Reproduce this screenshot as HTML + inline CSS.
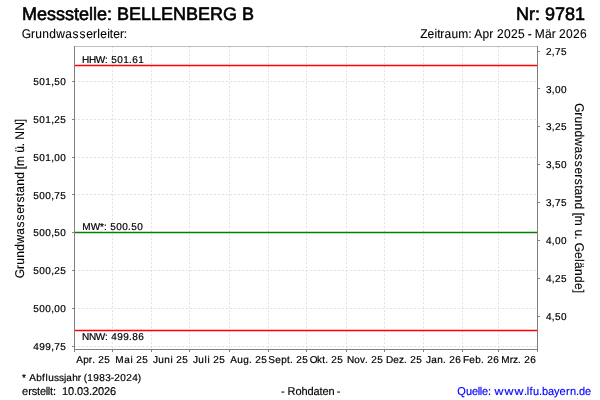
<!DOCTYPE html>
<html lang="de"><head><meta charset="utf-8"><title>Messstelle: BELLENBERG B</title>
<style>
html,body{margin:0;padding:0;background:#fff;}
body{width:600px;height:400px;overflow:hidden;}
svg{display:block;font-family:"Liberation Sans",Arial,Helvetica,sans-serif;}
text{white-space:pre;text-rendering:geometricPrecision;}
</style></head><body>
<svg width="600" height="400" viewBox="0 0 600 400" xml:space="preserve">
<rect x="0" y="0" width="600" height="400" fill="#fff"/>
<path d="M74.25 81.5H537 M74.25 119.5H537 M74.25 157.5H537 M74.25 194.5H537 M74.25 232.5H537 M74.25 270.5H537 M74.25 308.5H537 M74.25 346.5H537 M112.5 46.25V349 M151.5 46.25V349 M189.5 46.25V349 M229.5 46.25V349 M268.5 46.25V349 M306.5 46.25V349 M346.5 46.25V349 M384.5 46.25V349 M423.5 46.25V349 M462.5 46.25V349 M498.5 46.25V349" stroke="#c0c0c0" stroke-width="0.5" stroke-dasharray="2 2" fill="none"/>
<path d="M74 46.5H538" stroke="#bfbfbf" stroke-width="1" fill="none" shape-rendering="crispEdges"/>
<path d="M74.5 46V350 M537.5 46V350 M74 349.5H538 M72 81.5H74 M72 119.5H74 M72 157.5H74 M72 194.5H74 M72 232.5H74 M72 270.5H74 M72 308.5H74 M72 346.5H74 M538 51.5H540 M538 88.5H540 M538 126.5H540 M538 164.5H540 M538 202.5H540 M538 240.5H540 M538 278.5H540 M538 316.5H540 M74.5 350V352 M112.5 350V352 M151.5 350V352 M189.5 350V352 M229.5 350V352 M268.5 350V352 M306.5 350V352 M346.5 350V352 M384.5 350V352 M423.5 350V352 M462.5 350V352 M498.5 350V352 M537.5 350V352" stroke="#808080" stroke-width="1" fill="none" shape-rendering="crispEdges"/>
<path d="M75 65.5H537M75 330.5H537" stroke="#ff0000" stroke-width="1.5" fill="none"/>
<path d="M75 232.5H537" stroke="#008000" stroke-width="1.5" fill="none"/>
<g>
<text transform="translate(22 20)" x="0 14.99 25 34 43 52 56.99 67 71 74.99 85 90 95 107 118.99 128.99 139 151 164 176 188 201 215 220" y="0" font-size="18" stroke="#000" stroke-width="0.6">Messstelle: BELLENBERG B</text>
<text transform="translate(516 20)" x="0 13 19 24 28.99 38.99 48.99 58.99" y="0" font-size="18" stroke="#000" stroke-width="0.6">Nr: 9781</text>
<text transform="translate(22 38) scale(1 1.06)" x="-0.17 9 13.16 20.16 27.16 34.17 43.16 50.5 57.5 64.16 71 75.17 78.16 85.17 87.83 91.16 98 101.83" y="0" font-size="12" stroke="#000" stroke-width="0.1">Grundwasserleiter:</text>
<text transform="translate(420.3 38) scale(1 1.06)" x="-0.17 7.16 14.17 16.83 20 24.16 31.16 38 47.83 51 54 62.16 69 73 76.66 83.66 90.66 97.66 104.5 107.5 111.5 114.5 124.66 131.5 135.5 138.66 145.66 152.66 159.66" y="0" font-size="12" stroke="#000" stroke-width="0.1">Zeitraum: Apr 2025 - Mär 2026</text>
<text transform="translate(66 85)" x="-32.78 -26.78 -20.78 -14.89 -11.78 -5.78" y="0" font-size="10" stroke="#000" stroke-width="0.2">501,50</text>
<text transform="translate(66 123)" x="-32.78 -26.78 -20.78 -14.89 -11.78 -5.78" y="0" font-size="10" stroke="#000" stroke-width="0.2">501,25</text>
<text transform="translate(66 161)" x="-32.78 -26.78 -20.78 -14.89 -11.78 -5.78" y="0" font-size="10" stroke="#000" stroke-width="0.2">501,00</text>
<text transform="translate(66 199)" x="-32.78 -26.78 -20.78 -14.89 -11.78 -5.78" y="0" font-size="10" stroke="#000" stroke-width="0.2">500,75</text>
<text transform="translate(66 236)" x="-32.78 -26.78 -20.78 -14.89 -11.78 -5.78" y="0" font-size="10" stroke="#000" stroke-width="0.2">500,50</text>
<text transform="translate(66 274)" x="-32.78 -26.78 -20.78 -14.89 -11.78 -5.78" y="0" font-size="10" stroke="#000" stroke-width="0.2">500,25</text>
<text transform="translate(66 312)" x="-32.78 -26.78 -20.78 -14.89 -11.78 -5.78" y="0" font-size="10" stroke="#000" stroke-width="0.2">500,00</text>
<text transform="translate(66 350)" x="-32.78 -26.78 -20.78 -14.89 -11.78 -5.78" y="0" font-size="10" stroke="#000" stroke-width="0.2">499,75</text>
<text transform="translate(545.7 55)" x="0.22 6.11 9.22 15.22" y="0" font-size="10" stroke="#000" stroke-width="0.2">2,75</text>
<text transform="translate(545.7 93)" x="0.22 6.11 9.22 15.22" y="0" font-size="10" stroke="#000" stroke-width="0.2">3,00</text>
<text transform="translate(545.7 130)" x="0.22 6.11 9.22 15.22" y="0" font-size="10" stroke="#000" stroke-width="0.2">3,25</text>
<text transform="translate(545.7 168)" x="0.22 6.11 9.22 15.22" y="0" font-size="10" stroke="#000" stroke-width="0.2">3,50</text>
<text transform="translate(545.7 206)" x="0.22 6.11 9.22 15.22" y="0" font-size="10" stroke="#000" stroke-width="0.2">3,75</text>
<text transform="translate(545.7 244)" x="0.22 6.11 9.22 15.22" y="0" font-size="10" stroke="#000" stroke-width="0.2">4,00</text>
<text transform="translate(545.7 282)" x="0.22 6.11 9.22 15.22" y="0" font-size="10" stroke="#000" stroke-width="0.2">4,25</text>
<text transform="translate(545.7 320)" x="0.22 6.11 9.22 15.22" y="0" font-size="10" stroke="#000" stroke-width="0.2">4,50</text>
<text transform="translate(93 363)" x="-16.83 -9.78 -4.17 -0.89 2 5.22 11.22" y="0" font-size="10" stroke="#000" stroke-width="0.2">Apr. 25</text>
<text transform="translate(132 363)" x="-16.67 -7.78 -1.61 1 4.22 10.22" y="0" font-size="10" stroke="#000" stroke-width="0.2">Mai 25</text>
<text transform="translate(170 363)" x="-17 -11.78 -5.78 0.39 3 6.22 12.22" y="0" font-size="10" stroke="#000" stroke-width="0.2">Juni 25</text>
<text transform="translate(209 363)" x="-16 -10.78 -4.61 -1.61 1 4.22 10.22" y="0" font-size="10" stroke="#000" stroke-width="0.2">Juli 25</text>
<text transform="translate(248 363)" x="-17.83 -10.78 -4.78 1.11 4 7.22 13.22" y="0" font-size="10" stroke="#000" stroke-width="0.2">Aug. 25</text>
<text transform="translate(287 363)" x="-18.83 -11.78 -5.78 0.11 3.11 6 9.22 15.22" y="0" font-size="10" stroke="#000" stroke-width="0.2">Sept. 25</text>
<text transform="translate(326 363)" x="-16.39 -9 -3.89 -0.89 2 5.22 11.22" y="0" font-size="10" stroke="#000" stroke-width="0.2">Okt. 25</text>
<text transform="translate(365 363)" x="-18.11 -10.78 -5 0.11 3 6.22 12.22" y="0" font-size="10" stroke="#000" stroke-width="0.2">Nov. 25</text>
<text transform="translate(404 363)" x="-18.11 -10.78 -5 0.11 3 6.22 12.22" y="0" font-size="10" stroke="#000" stroke-width="0.2">Dez. 25</text>
<text transform="translate(442 363)" x="-16 -10.78 -4.78 1.11 4 7.22 13.22" y="0" font-size="10" stroke="#000" stroke-width="0.2">Jan. 26</text>
<text transform="translate(480 363)" x="-17.05 -10.78 -4.78 1.11 4 7.22 13.22" y="0" font-size="10" stroke="#000" stroke-width="0.2">Feb. 26</text>
<text transform="translate(518 363)" x="-16.67 -8.17 -5 0.11 3 6.22 12.22" y="0" font-size="10" stroke="#000" stroke-width="0.2">Mrz. 26</text>
<text transform="translate(82 63)" x="-0.11 6.89 13.78 23.11 26 29.22 35.22 41.22 47.11 50.22 56.22" y="0" font-size="10" stroke="#000" stroke-width="0.2">HHW: 501.61</text>
<text transform="translate(82 230)" x="0.33 8.78 18.05 22.11 25 28.22 34.22 40.22 46.11 49.22 55.22" y="0" font-size="10" stroke="#000" stroke-width="0.2">MW*: 500.50</text>
<text transform="translate(82 340)" x="-0.11 6.89 13.78 23.11 26 29.22 35.22 41.22 47.11 50.22 56.22" y="0" font-size="10" stroke="#000" stroke-width="0.2">NNW: 499.86</text>
<text transform="translate(24 278) rotate(-90) scale(1 1.06)" x="-0.17 9 13.16 20.16 27.16 34.17 43.16 50.5 57.5 64.16 71 75.5 81.83 85.16 92.16 99.16 106 108.83 112 122 125.16 131.83 135 138.17 147.17 155.83" y="0" font-size="12" stroke="#000" stroke-width="0.1">Grundwasserstand [m ü. NN]</text>
<text transform="translate(575 103.3) rotate(90) scale(1 1.06)" x="-0.17 9 13.16 20.16 27.16 34.17 43.16 50.5 57.5 64.16 71 75.5 81.83 85.16 92.16 99.16 106 109.33 112.5 122.5 126.16 132.83 136 139.33 148.66 155.67 158.66 165.66 172.66 179.66 186.33" y="0" font-size="12" stroke="#000" stroke-width="0.1">Grundwasserstand [m u. Gelände]</text>
<text transform="translate(22 381)" x="0.05 4 7.17 14.22 20.11 23.39 26.22 32 37 41.89 44.22 50.22 55.83 59 61.83 65.22 71.22 77.22 83.22 88.83 92.22 98.22 104.22 110.22 115.83" y="0" font-size="10" stroke="#000" stroke-width="0.2">* Abflussjahr (1983-2024)</text>
<text transform="translate(22 395) scale(1 1.03)" x="-0.06 6.17 9.75 14.97 17.94 23.78 25.78 27.97 30.97 34 37 39.94 45.94 51.97 54.94 60.94 66.97 69.94 75.94 81.94 87.94" y="0" font-size="11" stroke="#000" stroke-width="0.15">erstellt:  10.03.2026</text>
<text transform="translate(281 395) scale(1 1.03)" x="-0.08 3.5 6.53 14.44 20.44 26.44 32.44 38.47 41.44 47.44 53.5 55.72" y="0" font-size="11" stroke="#000" stroke-width="0.15">- Rohdaten -</text>
<text transform="translate(0 395) scale(1 1.03)" y="0" font-size="11" fill="#0000ff" stroke="#0000ff" stroke-width="0.15"><tspan x="457.22 465.94 471.94 477.78 479.78 481.94 487.97 491">Quelle: </tspan><tspan x="494.5" letter-spacing="0.98" textLength="30" lengthAdjust="spacingAndGlyphs">www</tspan><tspan x="523.97 526.78 529.47 532.94 538.97 541.94 547.94 554 559.44 565.92 569.94 575.97 578.94 584.94">.lfu.bayern.de</tspan></text>
</g>
</svg>
</body></html>
